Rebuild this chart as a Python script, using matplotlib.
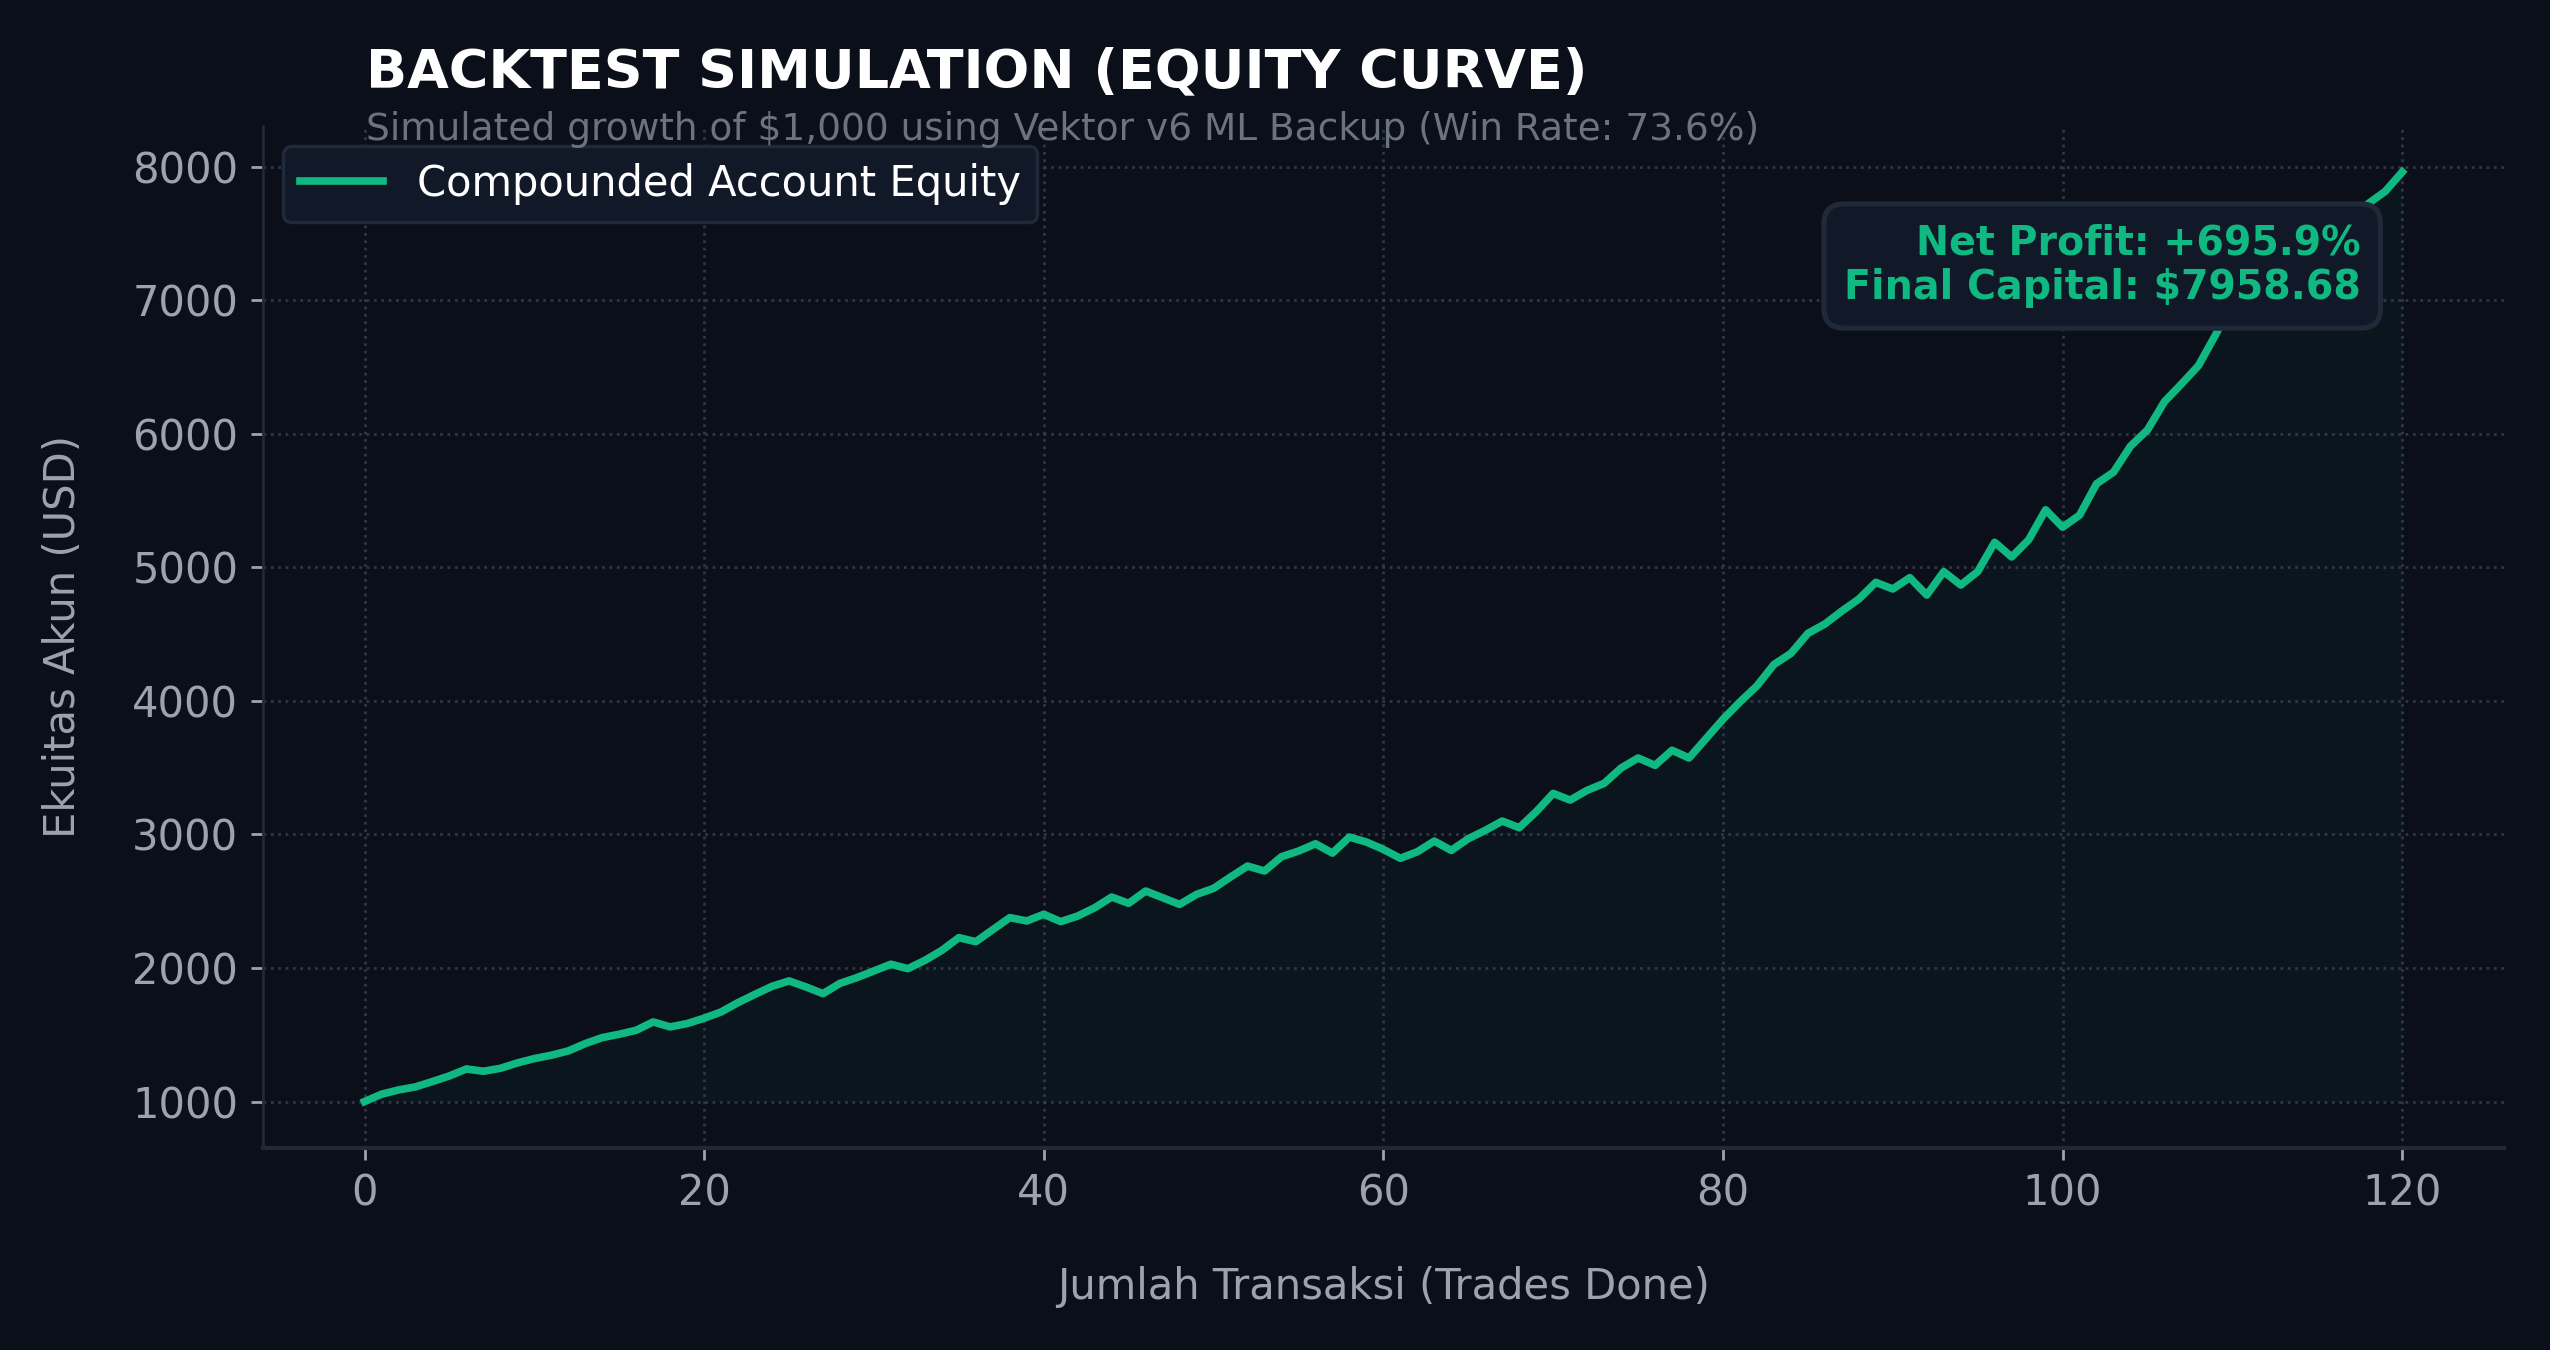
import numpy as np
import matplotlib
matplotlib.use("Agg")
import matplotlib.pyplot as plt

# equity after each trade (points 110-117 sit
# behind the stats box and are estimated)
equity = [
    1000, 1055, 1087, 1110, 1150, 1192, 1244, 1227, 1249, 1289,
    1322, 1347, 1379, 1434, 1479, 1504, 1534, 1596, 1559, 1584,
    1624, 1671, 1741, 1803, 1863, 1903, 1858, 1808, 1885, 1928,
    1978, 2028, 1995, 2057, 2132, 2227, 2197, 2287, 2377, 2352,
    2402, 2347, 2389, 2451, 2531, 2484, 2576, 2526, 2476, 2551,
    2596, 2681, 2763, 2726, 2833, 2875, 2930, 2860, 2980, 2943,
    2888, 2821, 2870, 2950, 2880, 2968, 3030, 3100, 3050, 3170,
    3307, 3257, 3330, 3382, 3497, 3572, 3517, 3630, 3572, 3717,
    3862, 3992, 4112, 4272, 4355, 4505, 4575, 4672, 4762, 4887,
    4837, 4922, 4792, 4967, 4867, 4967, 5187, 5077, 5205, 5430,
    5300, 5390, 5625, 5712, 5907, 6028, 6240, 6372, 6509, 6738,
    6990, 7060, 7190, 7130, 7300, 7420, 7370, 7560, 7722, 7814,
    7958.68,
]
trades = np.arange(len(equity))

INITIAL = 1000
NET_PROFIT_PCT = 695.9
FINAL_CAPITAL = 7958.68
WIN_RATE = 73.6

BG = "#0b0f19"
GREEN = "#10b981"
GRAY = "#9ca3af"
DIM = "#6b7280"
PANEL = "#111827"
EDGE = "#1f2937"

fig = plt.figure(figsize=(10.2, 5.4), dpi=250, facecolor=BG)
ax = fig.add_axes([0.103, 0.1496, 0.879, 0.7574])
ax.set_facecolor(BG)

ax.plot(trades, equity, color=GREEN, lw=2.2, label="Compounded Account Equity")
ax.fill_between(trades, equity, INITIAL, color=GREEN, alpha=0.04, lw=0)

ax.grid(True, color="#374151", ls=":", lw=0.8, alpha=0.8)
for side in ("top", "right"):
    ax.spines[side].set_visible(False)
for side in ("left", "bottom"):
    ax.spines[side].set_color(EDGE)
ax.spines["bottom"].set_linewidth(1.2)

ax.tick_params(colors=GRAY, labelsize=12, length=3.5)
ax.set_xlabel("Jumlah Transaksi (Trades Done)", color=GRAY, fontsize=12, labelpad=15)
ax.set_ylabel("Ekuitas Akun (USD)", color=GRAY, fontsize=12, labelpad=14)

leg = ax.legend(loc="upper left", fontsize=12, facecolor=PANEL, edgecolor=EDGE,
                framealpha=1.0, borderaxespad=0.5)
for t in leg.get_texts():
    t.set_color("white")

ax.text(0.936, 0.904,
        f"Net Profit: +{NET_PROFIT_PCT:.1f}%\nFinal Capital: ${FINAL_CAPITAL:.2f}",
        transform=ax.transAxes, ha="right", va="top", ma="right",
        fontsize=11.4, fontweight="bold", color=GREEN, zorder=10, linespacing=1.15,
        bbox=dict(boxstyle="round,pad=0.5", facecolor=PANEL, edgecolor=EDGE, lw=1.5))

fig.text(0.1435, 0.935, "BACKTEST SIMULATION (EQUITY CURVE)", color="white",
         fontsize=15.5, fontweight="bold", ha="left", va="baseline")
fig.text(0.1435, 0.896,
         f"Simulated growth of $1,000 using Vektor v6 ML Backup (Win Rate: {WIN_RATE}%)",
         color=DIM, fontsize=10.8, ha="left", va="baseline")

fig.savefig("out.png", dpi=250, facecolor=BG)
